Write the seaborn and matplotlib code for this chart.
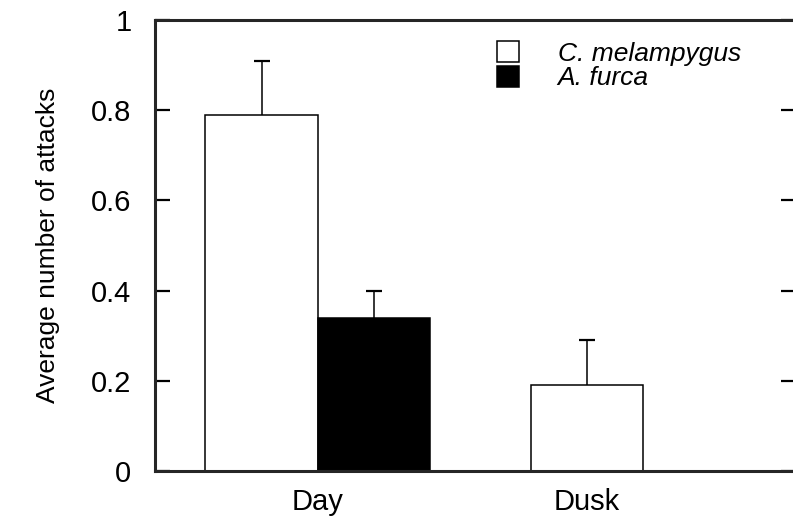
import matplotlib
matplotlib.use("Agg")
import matplotlib.pyplot as plt
import seaborn as sns
import pandas as pd

# datos
periods = ["Day", "Day", "Dusk", "Dusk"]
species = ["C. melampygus", "A. furca", "C. melampygus", "A. furca"]
attacks = [0.79, 0.34, 0.19, 0.0]
errors = [0.12, 0.06, 0.10, 0.0]

ytick_vals = [0, 0.2, 0.4, 0.6, 0.8, 1]
ytick_labels = ["0", "0.2", "0.4", "0.6", "0.8", "1"]

df = pd.DataFrame({"period": periods, "species": species, "attacks": attacks, "err": errors})

sns.set_style("ticks")
plt.rcParams["font.family"] = ["Liberation Sans", "DejaVu Sans"]
plt.rcParams["text.color"] = "black"
plt.rcParams["axes.labelcolor"] = "black"
plt.rcParams["xtick.color"] = "black"
plt.rcParams["ytick.color"] = "black"

fig = plt.figure(figsize=(7.93, 5.25), dpi=100)
ax = fig.add_axes([155 / 793, 54 / 525, 641 / 793, 451 / 525])

sns.barplot(data=df, x="period", y="attacks", hue="species",
            palette=["white", "black"], edgecolor="black", linewidth=1.1,
            width=0.69, gap=0, errorbar=None, ax=ax)

# barras de error solo hacia arriba
for cont, sp in zip(ax.containers, ["C. melampygus", "A. furca"]):
    sub = df[df["species"] == sp]
    for patch, val, e in zip(cont, sub["attacks"], sub["err"]):
        if e > 0:
            xc = patch.get_x() + patch.get_width() / 2
            eb = ax.errorbar([xc], [val], yerr=[[0], [e]], fmt="none", ecolor="black",
                             elinewidth=1.1, capsize=6, capthick=1.6)
            eb[1][0].set_visible(False)  # quitar tapa inferior

ax.set_xlim(-0.5, 1.47)
ax.set_ylim(0, 1)
ax.set_yticks(ytick_vals)
ax.set_yticklabels(ytick_labels)

# la etiqueta Dusk va bajo la unica barra
dusk_patch = ax.containers[0][1]
ax.set_xticks([0, dusk_patch.get_x() + dusk_patch.get_width() / 2])
ax.set_xticklabels(["Day", "Dusk"])

ax.tick_params(axis="y", direction="in", length=11, width=1.6, labelsize=21, pad=17,
               right=True, left=True)
ax.tick_params(axis="x", length=0, labelsize=21, pad=12)

for side in ["left", "top", "bottom"]:
    ax.spines[side].set_linewidth(2.2)
ax.spines["right"].set_visible(False)

ax.set_xlabel("")
ax.set_ylabel("Average number of attacks", fontsize=19)
ax.yaxis.set_label_coords(-0.148, 0.5)

leg = ax.legend(loc="upper left", bbox_to_anchor=(497 / 793, 1 - 41 / 525),
                bbox_transform=fig.transFigure, frameon=False,
                prop={"style": "italic", "size": 19},
                handlelength=0.85, handleheight=0.85, handletextpad=1.45,
                labelspacing=0.0, borderpad=0, borderaxespad=0)
for h in leg.legend_handles:
    h.set_edgecolor("black")
    h.set_linewidth(1.1)

plt.savefig("out.png", dpi=100)
plt.close()
